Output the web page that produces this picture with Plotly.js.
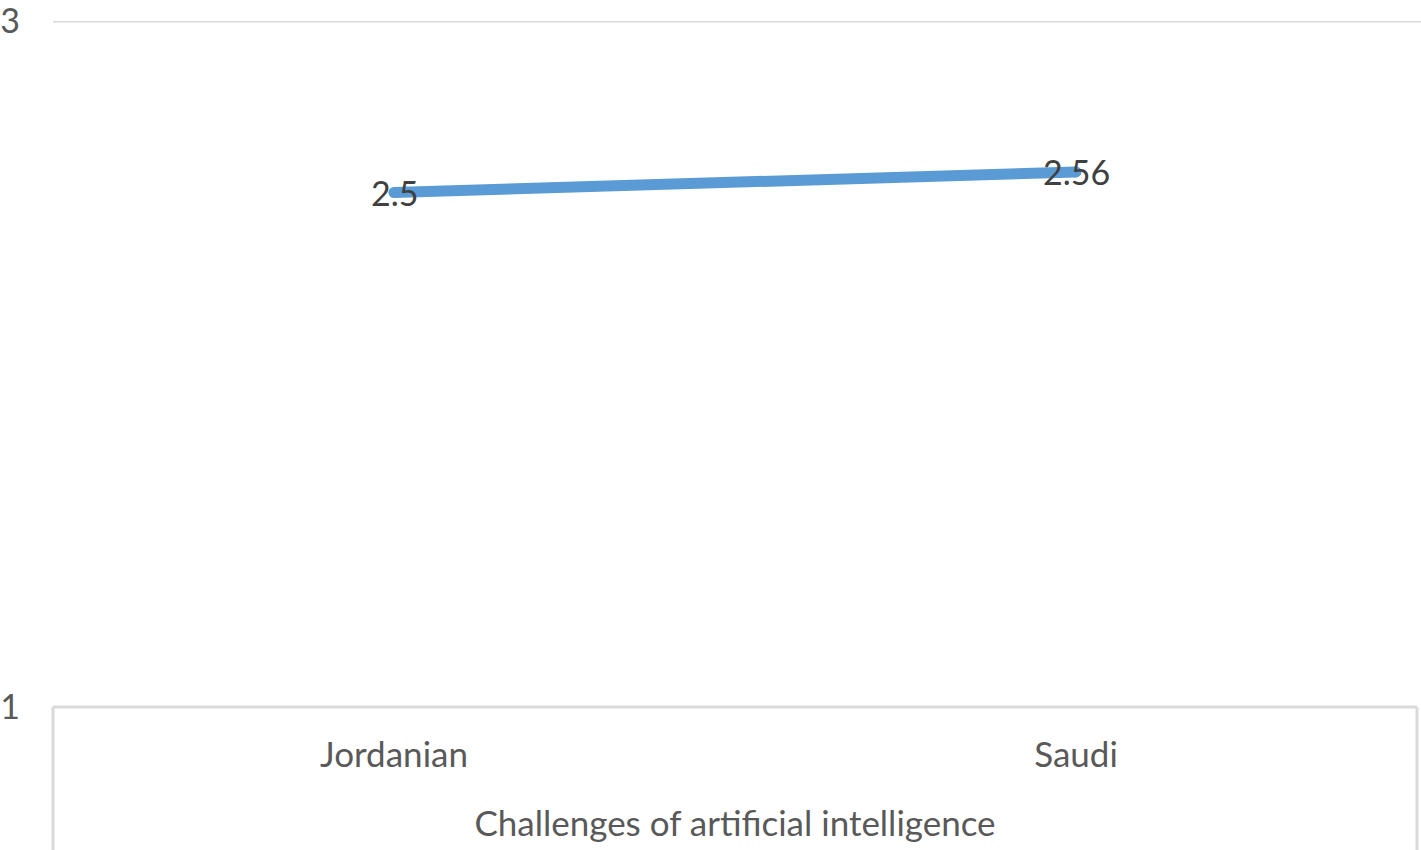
<!DOCTYPE html>
<html>
<head>
<meta charset="utf-8">
<script src="https://cdn.plot.ly/plotly-3.0.1.min.js"></script>
<style>html,body{margin:0;padding:0;background:#fff;}#chart{width:1421px;height:850px;}</style>
</head>
<body>
<div id="chart"></div>
<script>
var categories = ["Jordanian", "Saudi"];
var values = [2.5, 2.56];
var valueLabels = ["2.5", "2.56"];
var groupTitle = "Challenges of artificial intelligence";
var yTicks = [1, 3];

var FONT = "Lato, 'Open Sans', sans-serif";
var FS = 34;
var trace = {
  x: categories,
  y: values,
  type: "scatter",
  mode: "lines+markers",
  line: {color: "#5b9bd5", width: 11},
  marker: {color: "#5b9bd5", size: 11},
  cliponaxis: false,
  hoverinfo: "skip"
};
var annotations = categories.map(function (c, i) {
  return {
    x: c, y: values[i], xref: "x", yref: "y",
    text: valueLabels[i], showarrow: false,
    xanchor: "center", yanchor: "middle", yshift: 0,
    font: {family: FONT, size: FS, color: "#404040"}
  };
});
var layout = {
  width: 1421, height: 850,
  margin: {l: 53, r: 4, t: 21, b: 143},
  paper_bgcolor: "#fff", plot_bgcolor: "#fff",
  showlegend: false,
  font: {family: FONT, color: "#595959", size: FS},
  xaxis: {
    type: "category",
    range: [-0.5, 1.5],
    showgrid: false, zeroline: false, showline: false,
    ticks: "",
    tickfont: {family: FONT, size: FS + 1, color: "#595959"},
    ticklabelstandoff: 24,
    title: {text: groupTitle, font: {family: FONT, size: FS + 1, color: "#595959"}, standoff: 38}
  },
  yaxis: {
    range: [1, 3],
    tickvals: yTicks,
    ticktext: yTicks.map(String),
    showgrid: false,
    zeroline: false, showline: false, ticks: "",
    tickfont: {family: FONT, size: FS, color: "#595959"},
    ticklabelstandoff: 32,
    ticklabeloverflow: "allow"
  },
  annotations: annotations,
  shapes: [
    {type: "line", xref: "paper", yref: "y", x0: 0, x1: 1.003, y0: yTicks[1], y1: yTicks[1], line: {color: "#d9d9d9", width: 3}},
    {type: "line", xref: "paper", yref: "paper", x0: 0, x1: 1, y0: 0, y1: 0, line: {color: "#d9d9d9", width: 3}},
    {type: "line", xref: "paper", yref: "paper", x0: 0, x1: 0, y0: 0, y1: -0.25, line: {color: "#d9d9d9", width: 3}},
    {type: "line", xref: "paper", yref: "paper", x0: 1, x1: 1, y0: 0, y1: -0.25, line: {color: "#d9d9d9", width: 3}}
  ]
};
Plotly.newPlot("chart", [trace], layout, {displayModeBar: false, staticPlot: true});
</script>
</body>
</html>
